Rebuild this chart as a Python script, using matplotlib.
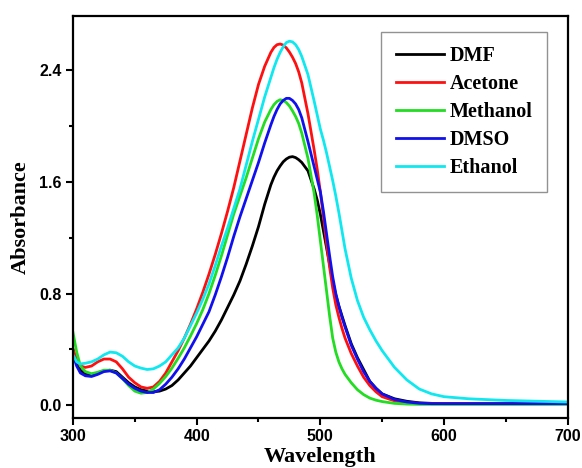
#!/usr/bin/env python3

import matplotlib.pyplot as plt
from matplotlib.ticker import MultipleLocator


WAVELENGTH = [300, 303, 306, 310,
              315, 320, 325, 330, 335, 340, 345, 350, 355, 360, 365, 370, 375, 380, 385, 390,
              395, 400, 405, 410, 415, 420, 425, 430, 435, 440, 445, 450, 455, 460,
              462.5, 465, 467.5, 470, 472.5, 475, 477.5, 480, 482.5, 485,
              490, 495, 497.5, 500, 502.5, 505, 507.5, 510, 512.5, 515, 517.5, 520,
              525, 530, 535, 540, 545, 550,
              560, 570, 580, 590, 600, 620, 650, 700]

DMF = [0.40, 0.31, 0.25, 0.22,
       0.215, 0.23, 0.245, 0.25, 0.24, 0.20, 0.16, 0.13, 0.11, 0.10, 0.095, 0.10, 0.115, 0.14, 0.18, 0.23,
       0.28, 0.34, 0.40, 0.46, 0.53, 0.61, 0.70, 0.79, 0.89, 1.01, 1.14, 1.28, 1.44, 1.58,
       1.635, 1.68, 1.715, 1.745, 1.765, 1.778, 1.782, 1.775, 1.76, 1.74,
       1.68, 1.55, 1.47, 1.37, 1.25, 1.13, 1.01, 0.89, 0.79, 0.71, 0.64, 0.57,
       0.44, 0.34, 0.255, 0.17, 0.12, 0.08,
       0.045, 0.027, 0.016, 0.012, 0.01, 0.01, 0.01, 0.01]

ACETONE = [0.40, 0.32, 0.28, 0.27,
           0.28, 0.31, 0.33, 0.33, 0.31, 0.26, 0.20, 0.16, 0.13, 0.12, 0.13, 0.17, 0.23, 0.31, 0.39, 0.48,
           0.58, 0.69, 0.81, 0.94, 1.08, 1.23, 1.39, 1.56, 1.75, 1.94, 2.13, 2.30, 2.43, 2.53,
           2.565, 2.585, 2.59, 2.582, 2.562, 2.532, 2.495, 2.45, 2.39, 2.31,
           2.09, 1.83, 1.69, 1.53, 1.35, 1.16, 0.99, 0.84, 0.72, 0.63, 0.55, 0.48,
           0.37, 0.28, 0.20, 0.14, 0.095, 0.06,
           0.03, 0.018, 0.012, 0.01, 0.01, 0.01, 0.01, 0.01]

METHANOL = [0.52, 0.38, 0.28, 0.24,
            0.225, 0.235, 0.25, 0.25, 0.23, 0.19, 0.14, 0.10, 0.085, 0.09, 0.115, 0.155, 0.205, 0.265, 0.335, 0.41,
            0.495, 0.585, 0.685, 0.80, 0.93, 1.07, 1.22, 1.37, 1.50, 1.63, 1.77, 1.91, 2.03, 2.12,
            2.155, 2.178, 2.19, 2.185, 2.17, 2.145, 2.11, 2.07, 2.02, 1.95,
            1.77, 1.52, 1.36, 1.18, 1.00, 0.82, 0.64, 0.48, 0.38, 0.31, 0.26, 0.22,
            0.16, 0.11, 0.075, 0.05, 0.035, 0.025,
            0.012, 0.007, 0.005, 0.005, 0.005, 0.005, 0.005, 0.005]

DMSO = [0.36, 0.28, 0.23, 0.21,
        0.205, 0.22, 0.24, 0.245, 0.23, 0.19, 0.15, 0.12, 0.10, 0.09, 0.09, 0.11, 0.15, 0.20, 0.26, 0.33,
        0.41, 0.49, 0.58, 0.67, 0.79, 0.92, 1.06, 1.21, 1.35, 1.48, 1.61, 1.74, 1.88, 2.01,
        2.07, 2.12, 2.16, 2.185, 2.20, 2.20, 2.185, 2.16, 2.12, 2.06,
        1.89, 1.71, 1.62, 1.53, 1.39, 1.23, 1.07, 0.92, 0.80, 0.71, 0.63, 0.56,
        0.43, 0.33, 0.24, 0.17, 0.12, 0.08,
        0.04, 0.022, 0.013, 0.01, 0.01, 0.01, 0.01, 0.01]

ETHANOL = [0.36, 0.31, 0.295, 0.30,
           0.31, 0.33, 0.36, 0.38, 0.375, 0.35, 0.31, 0.28, 0.265, 0.255, 0.26, 0.28, 0.31, 0.36, 0.41, 0.48,
           0.57, 0.66, 0.76, 0.87, 1.00, 1.14, 1.27, 1.41, 1.55, 1.72, 1.89, 2.05, 2.21, 2.35,
           2.42, 2.48, 2.53, 2.57, 2.60, 2.61, 2.605, 2.585, 2.55, 2.50,
           2.37, 2.18, 2.08, 1.98, 1.90, 1.81, 1.71, 1.61, 1.50, 1.38, 1.25, 1.12,
           0.91, 0.75, 0.63, 0.54, 0.46, 0.39,
           0.27, 0.18, 0.115, 0.08, 0.06, 0.045, 0.033, 0.022]

SERIES = [
    ("DMF", DMF, "black"),
    ("Acetone", ACETONE, "#ff1010"),
    ("Methanol", METHANOL, "#22dd22"),
    ("DMSO", DMSO, "#1010ee"),
    ("Ethanol", ETHANOL, "#10e8f0"),
]


def main():
    fig = plt.figure(figsize=(5.82, 4.68), dpi=100)
    ax = fig.add_axes([0.1254, 0.1062, 0.85, 0.8603])

    for label, values, color in SERIES:
        ax.plot(WAVELENGTH, values, color=color, linewidth=2.0, label=label)

    ax.set_xlim(300, 700)
    ax.set_ylim(-0.095, 2.793)
    ax.xaxis.set_major_locator(MultipleLocator(100))
    ax.xaxis.set_minor_locator(MultipleLocator(50))
    ax.yaxis.set_major_locator(MultipleLocator(0.8))
    ax.yaxis.set_minor_locator(MultipleLocator(0.4))
    ax.tick_params(which="major", direction="out", length=5, width=1.5,
                   labelsize=11.5, pad=3)
    ax.tick_params(which="minor", direction="out", length=3, width=1.5)
    for spine in ax.spines.values():
        spine.set_linewidth(1.6)
    for tick in ax.get_xticklabels() + ax.get_yticklabels():
        tick.set_fontfamily("Liberation Sans")
        tick.set_fontweight("bold")

    # the original crops the bottom of this label; keep it just inside here
    label_font = {"family": "Liberation Serif", "weight": "bold", "size": 16}
    ax.set_xlabel("Wavelength", fontdict=label_font, labelpad=2)
    ax.set_ylabel("Absorbance", fontdict=label_font, labelpad=6)

    leg = ax.legend(loc="upper right", bbox_to_anchor=(0.958, 0.96),
                    prop={"family": "Liberation Serif", "weight": "bold", "size": 14.5},
                    fancybox=False, frameon=True, handlelength=2.4,
                    labelspacing=0.4, borderpad=0.7, handletextpad=0.3,
                    borderaxespad=0.0)
    leg.get_frame().set_edgecolor("#777777")
    leg.get_frame().set_linewidth(1.0)
    for line in leg.get_lines():
        line.set_linewidth(2.0)

    fig.savefig("out.png", dpi=100)
    plt.close(fig)


if __name__ == "__main__":
    main()
